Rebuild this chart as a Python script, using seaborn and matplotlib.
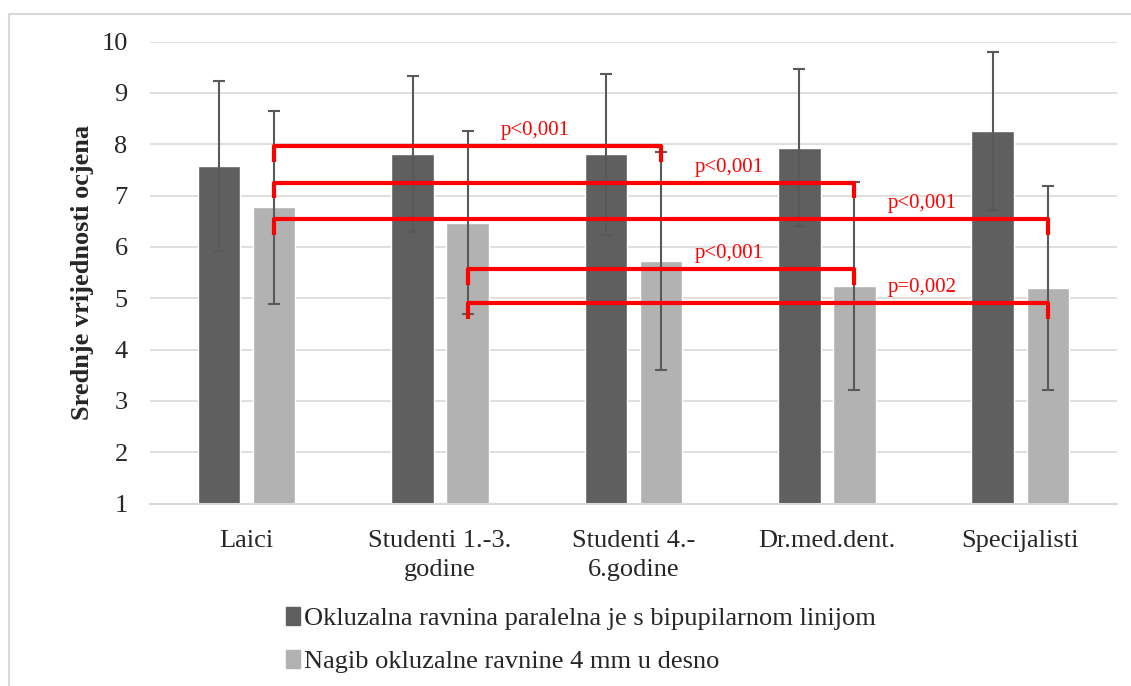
import pandas as pd
import matplotlib.pyplot as plt
import matplotlib.patches as mpatches
import seaborn as sns

sns.set_style("white")
plt.rcParams["font.family"] = ["Liberation Serif", "DejaVu Serif"]

groups = ["Laici", "Studenti 1.-3.\ngodine", "Studenti 4.-\n6.godine",
          "Dr.med.dent.", "Specijalisti"]
series = ["Okluzalna ravnina paralelna je s bipupilarnom linijom",
          "Nagib okluzalne ravnine 4 mm u desno"]
parallel_mean = [7.58, 7.81, 7.80, 7.93, 8.25]
parallel_sd = [1.66, 1.52, 1.56, 1.53, 1.54]
tilt_mean = [6.77, 6.47, 5.72, 5.24, 5.20]
tilt_sd = [1.88, 1.78, 2.12, 2.03, 1.98]

# significance brackets between the tilt bars
comp_from = [0, 0, 0, 1, 1]
comp_to = [2, 3, 4, 3, 4]
comp_level = [7.96, 7.25, 6.54, 5.56, 4.90]
comp_p = ["p<0,001", "p<0,001", "p<0,001", "p<0,001", "p=0,002"]

colors = ["#5f5f5f", "#b2b2b2"]
grid_gray = "#d9d9d9"

df = pd.DataFrame({
    "group": groups * 2,
    "series": [series[0]] * 5 + [series[1]] * 5,
    "mean": parallel_mean + tilt_mean,
    "sd": parallel_sd + tilt_sd,
})

fig = plt.figure(figsize=(11.31, 6.86), dpi=100)
ax = fig.add_axes([0.1326, 0.266, 0.855, 0.6735])

sns.barplot(data=df, x="group", y="mean", hue="series", palette=colors,
            width=0.57, gap=0.23, errorbar=None, legend=False, ax=ax,
            saturation=1)

centers = []
for cont, (m, s) in zip(ax.containers, [(parallel_mean, parallel_sd),
                                        (tilt_mean, tilt_sd)]):
    xs = [b.get_x() + b.get_width() / 2 for b in cont]
    centers.append(xs)
    ax.errorbar(xs, m, yerr=s, fmt="none", ecolor="#595959",
                elinewidth=1.5, capsize=4.5, capthick=1.5, zorder=3)

# red brackets
tilt_x = centers[1]
for a, b, lvl, p in zip(comp_from, comp_to, comp_level, comp_p):
    x0, x1 = tilt_x[a], tilt_x[b]
    ax.plot([x0, x0, x1, x1], [lvl - 0.3, lvl, lvl, lvl - 0.3],
            color="red", lw=3, solid_joinstyle="round",
            solid_capstyle="butt", zorder=4)
    ax.text(x1 - 0.65, lvl + 0.12, p, color="red", fontsize=15,
            ha="center", va="bottom", zorder=5)

ax.set_ylim(1, 10)
ax.set_xlim(-0.5, 4.5)
ax.set_yticks(range(1, 11))
ax.yaxis.grid(True, color=grid_gray, lw=1.2)
ax.set_axisbelow(True)
for side in ["top", "right", "left"]:
    ax.spines[side].set_visible(False)
ax.spines["bottom"].set_color(grid_gray)
ax.spines["bottom"].set_linewidth(1.5)
ax.tick_params(axis="both", length=0, labelsize=19)
ax.tick_params(axis="y", pad=16)
ax.tick_params(axis="x", pad=19)
for lab in ax.get_xticklabels():
    lab.set_linespacing(1.4)
ax.set_xlabel("")
ax.set_ylabel("Srednje vrijednosti ocjena", fontsize=19,
              fontweight="bold", labelpad=5)

handles = [mpatches.Patch(color=c, label=s) for c, s in zip(colors, series)]
fig.legend(handles=handles, loc="upper left",
           bbox_to_anchor=(262 / 1131, 1 - 583 / 686), frameon=False,
           fontsize=19, handlelength=0.55, handleheight=0.7,
           handletextpad=0.15, labelspacing=0.75)

fig.patches.append(mpatches.Rectangle((9 / 1131, -0.1), 1.2, 1.1 - 14 / 686,
                                      transform=fig.transFigure, fill=False,
                                      edgecolor=grid_gray, lw=1.5))

fig.savefig("out.png", dpi=100)
